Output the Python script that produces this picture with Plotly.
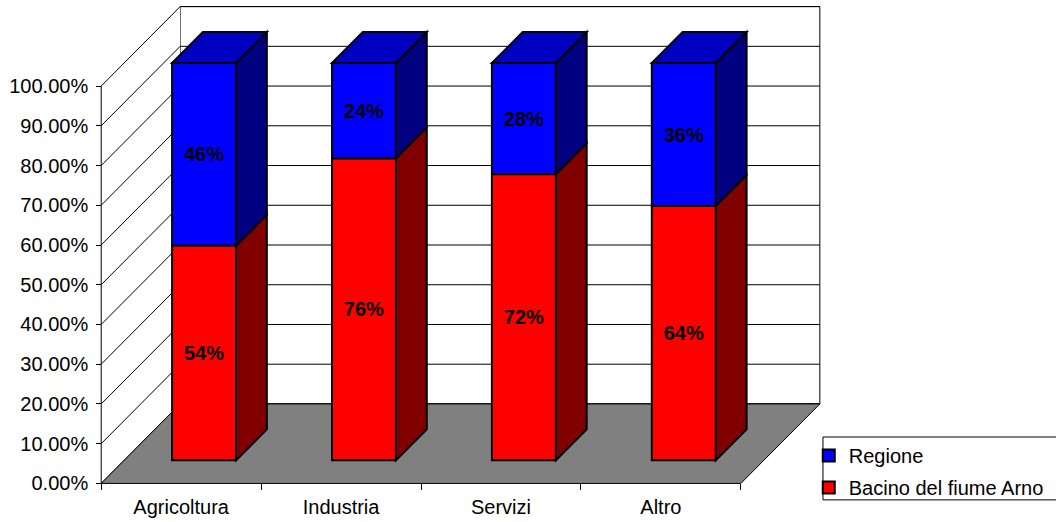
import plotly.graph_objects as go

# ---------------- data ----------------
categories = ["Agricoltura", "Industria", "Servizi", "Altro"]
bacino = [54, 76, 72, 64]          # Bacino del fiume Arno (%)
regione = [46, 24, 28, 36]         # Regione (%)
y_ticks = [0, 10, 20, 30, 40, 50, 60, 70, 80, 90, 100]
y_ticktext = [f"{v:.2f}%" for v in y_ticks]
series_names = ["Bacino del fiume Arno", "Regione"]

# ---------------- style ----------------
FONT = "Liberation Sans, Arial, sans-serif"
FS = 20
FRONT = ["#FF0000", "#0000FF"]
SIDE = ["#800000", "#000080"]
TOP = ["#C00000", "#0000C0"]
FLOOR = "#808080"

DX, DY = 0.494, 20.0        # oblique depth offset of the whole chart (axis units)
F1, F2 = 0.29, 0.68         # bar front / back depth as fraction of full depth
BAR_W = 0.4
X_RANGE = [-0.02, 4.52]
Y_RANGE = [-0.4, 120.4]
n = len(categories)

shapes = []


def seg(x0, y0, x1, y1, color="black", width=1):
    shapes.append(dict(type="line", xref="x", yref="y", x0=x0, y0=y0, x1=x1, y1=y1,
                       layer="below", line=dict(color=color, width=width)))


def poly(pts, fill, lc="black", lw=1):
    path = "M " + " L ".join(f"{x},{y}" for x, y in pts) + " Z"
    shapes.append(dict(type="path", xref="x", yref="y", path=path, layer="below",
                       fillcolor=fill, line=dict(color=lc, width=lw)))


top = y_ticks[-1]
# back wall
poly([(DX, DY), (n + DX, DY), (n + DX, top + DY), (DX, top + DY)], "white", "black", 1)
# side wall
poly([(0, 0), (DX, DY), (DX, top + DY), (0, top)], "white", "rgba(0,0,0,0)", 0)
# gridlines on walls
for v in y_ticks:
    seg(DX, v + DY, n + DX, v + DY, "#000000", 1)
    seg(0, v, DX, v + DY, "#000000", 1)
# floor
poly([(0, 0), (n, 0), (n + DX, DY), (DX, DY)], FLOOR, "black", 1)
# front vertical axis line
seg(0, 0, 0, top, "black", 1)

# bar side & top faces
ddx, ddy = (F2 - F1) * DX, (F2 - F1) * DY
base0 = F1 * DY
for i in range(n):
    xc = i + 0.5 + F1 * DX
    xl, xr = xc - BAR_W / 2, xc + BAR_W / 2
    y0 = base0
    stacks = [bacino[i], regione[i]]
    for k, v in enumerate(stacks):
        y1 = y0 + v
        poly([(xr, y0), (xr + ddx, y0 + ddy), (xr + ddx, y1 + ddy), (xr, y1)], SIDE[k], "black", 2)
        if k == len(stacks) - 1:
            poly([(xl, y1), (xl + ddx, y1 + ddy), (xr + ddx, y1 + ddy), (xr, y1)], TOP[k], "black", 2)
        y0 = y1

# legend frame (decoration, paper coordinates)
shapes.append(dict(type="rect", xref="paper", yref="paper", x0=0.9986, x1=1.4, y0=-0.031, y1=0.1,
                   layer="above", fillcolor="white", line=dict(color="black", width=1)))

xs = [i + 0.5 + F1 * DX for i in range(n)]
fig = go.Figure()
fig.add_trace(go.Bar(
    x=xs, y=regione, base=[base0 + b for b in bacino], width=BAR_W, name=series_names[1], legendgroup="r",
    marker=dict(color=FRONT[1], line=dict(color="black", width=2)),
    text=[f"<b>{v}%</b>" for v in regione], textposition="inside", insidetextanchor="middle",
    textangle=0, textfont=dict(color="black", size=FS, family=FONT), hoverinfo="skip"))
fig.add_trace(go.Bar(
    x=xs, y=bacino, base=[base0] * n, width=BAR_W, name=series_names[0], legendgroup="b",
    marker=dict(color=FRONT[0], line=dict(color="black", width=2)),
    text=[f"<b>{v}%</b>" for v in bacino], textposition="inside", insidetextanchor="middle",
    textangle=0, textfont=dict(color="black", size=FS, family=FONT), hoverinfo="skip"))

fig.update_layout(
    width=1056, height=522,
    margin=dict(l=98, r=232, t=5, b=37),
    paper_bgcolor="white", plot_bgcolor="rgba(0,0,0,0)",
    barmode="overlay",
    font=dict(family=FONT, size=FS, color="black"),
    shapes=shapes,
    showlegend=True,
    legend=dict(x=0.979, y=0.102, xanchor="left", yanchor="top",
                bgcolor="rgba(0,0,0,0)", borderwidth=0, traceorder="grouped",
                tracegroupgap=3,
                font=dict(family=FONT, size=FS, color="black")),
    xaxis=dict(range=X_RANGE, tickvals=[i + 0.5 for i in range(n)], ticktext=categories,
               ticks="", showgrid=False, zeroline=False, showline=False,
               anchor="free", position=(0 - Y_RANGE[0]) / (Y_RANGE[1] - Y_RANGE[0]),
               minor=dict(tickvals=list(range(n + 1)), ticks="outside", ticklen=6,
                          tickcolor="black", showgrid=False),
               ticklabelstandoff=10, tickfont=dict(size=FS, color="black")),
    yaxis=dict(range=Y_RANGE, tickvals=y_ticks, ticktext=y_ticktext,
               ticks="outside", ticklen=5, tickcolor="black",
               showgrid=False, zeroline=False, showline=False,
               anchor="free", position=(0 - X_RANGE[0]) / (X_RANGE[1] - X_RANGE[0]),
               ticklabelstandoff=4, tickfont=dict(size=FS, color="black")),
)

fig.write_html("out.html")
